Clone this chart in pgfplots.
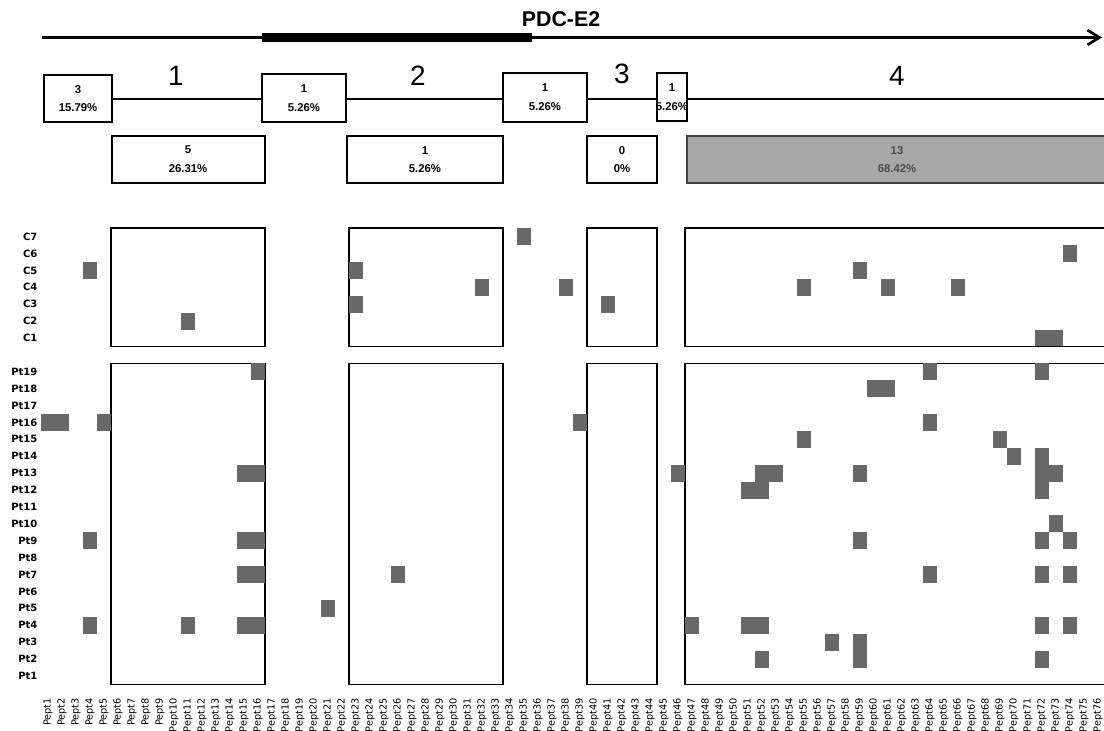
\documentclass[border=0pt]{standalone}
\usepackage{fontspec}
\setmainfont{Liberation Sans}
\newfontfamily\dejavu{DejaVu Sans}
\usepackage{pgfplots}
\pgfplotsset{compat=1.18}
\usetikzlibrary{arrows.meta}
\definecolor{cellgray}{RGB}{104,104,104}
\definecolor{boxgray}{RGB}{168,168,168}
\pgfdeclareplotmark{cell}{\pgfpathrectangle{\pgfpoint{-5.25pt}{-6.3375pt}}{\pgfpoint{10.5pt}{12.675pt}}\pgfusepathqfill}
\begin{document}
\begin{tikzpicture}
\begin{axis}[
  x=10.5pt, y=12.675pt,
  xmin=0.5, xmax=76.5, ymin=-0.3, ymax=27.5,
  clip=false,
  axis line style={draw=none},
  major tick length=0pt,
  xtick={1,2,3,4,5,6,7,8,9,10,11,12,13,14,15,16,17,18,19,20,21,22,23,24,25,26,27,28,29,30,31,32,33,34,35,36,37,38,39,40,41,42,43,44,45,46,47,48,49,50,51,52,53,54,55,56,57,58,59,60,61,62,63,64,65,66,67,68,69,70,71,72,73,74,75,76},
  xticklabels={Pept1,Pept2,Pept3,Pept4,Pept5,Pept6,Pept7,Pept8,Pept9,Pept10,Pept11,Pept12,Pept13,Pept14,Pept15,Pept16,Pept17,Pept18,Pept19,Pept20,Pept21,Pept22,Pept23,Pept24,Pept25,Pept26,Pept27,Pept28,Pept29,Pept30,Pept31,Pept32,Pept33,Pept34,Pept35,Pept36,Pept37,Pept38,Pept39,Pept40,Pept41,Pept42,Pept43,Pept44,Pept45,Pept46,Pept47,Pept48,Pept49,Pept50,Pept51,Pept52,Pept53,Pept54,Pept55,Pept56,Pept57,Pept58,Pept59,Pept60,Pept61,Pept62,Pept63,Pept64,Pept65,Pept66,Pept67,Pept68,Pept69,Pept70,Pept71,Pept72,Pept73,Pept74,Pept75,Pept76},
  ytick={1,2,3,4,5,6,7,8,9,10,11,12,13,14,15,16,17,18,19,21,22,23,24,25,26,27},
  yticklabels={Pt1,Pt2,Pt3,Pt4,Pt5,Pt6,Pt7,Pt8,Pt9,Pt10,Pt11,Pt12,Pt13,Pt14,Pt15,Pt16,Pt17,Pt18,Pt19,C1,C2,C3,C4,C5,C6,C7},
  xticklabel style={rotate=90, anchor=east, inner sep=0pt, font=\dejavu\fontsize{7.3}{8}\selectfont},
  yticklabel style={font=\dejavu\bfseries\fontsize{7.5}{8}\selectfont, inner sep=2.5pt},
]
% Patients Pt1..Pt19 (rows 1..19), controls C1..C7 (rows 21..27)
\addplot[only marks, mark=cell, color=cellgray] coordinates {
 (16,19) (64,19) (72,19)
 (60,18) (61,18)
 (1,16) (2,16) (5,16) (39,16) (64,16)
 (55,15) (69,15)
 (70,14) (72,14)
 (15,13) (16,13) (46,13) (52,13) (53,13) (59,13) (72,13) (73,13)
 (51,12) (52,12) (72,12)
 (73,10)
 (4,9) (15,9) (16,9) (59,9) (72,9) (74,9)
 (15,7) (16,7) (26,7) (64,7) (72,7) (74,7)
 (21,5)
 (4,4) (11,4) (15,4) (16,4) (47,4) (51,4) (52,4) (72,4) (74,4)
 (57,3) (59,3)
 (52,2) (59,2) (72,2)
};
\addplot[only marks, mark=cell, color=cellgray] coordinates {
 (35,27)
 (74,26)
 (4,25) (23,25) (59,25)
 (32,24) (38,24) (55,24) (61,24) (66,24)
 (23,23) (41,23)
 (11,22)
 (72,21) (73,21)
};
\draw[line width=1.2pt] (axis cs:5.5,20.5) rectangle (axis cs:16.5,27.5);
\draw[line width=1.2pt] (axis cs:22.5,20.5) rectangle (axis cs:33.5,27.5);
\draw[line width=1.2pt] (axis cs:39.5,20.5) rectangle (axis cs:44.5,27.5);
\draw[line width=1.2pt] (axis cs:46.5,20.5) rectangle (axis cs:76.6,27.5);
\draw[line width=1.2pt] (axis cs:5.5,0.5) rectangle (axis cs:16.5,19.5);
\draw[line width=1.2pt] (axis cs:22.5,0.5) rectangle (axis cs:33.5,19.5);
\draw[line width=1.2pt] (axis cs:39.5,0.5) rectangle (axis cs:44.5,19.5);
\draw[line width=1.2pt] (axis cs:46.5,0.5) rectangle (axis cs:76.6,19.5);
\coordinate (O) at (axis cs:-2.428571,41);
\end{axis}
\begin{scope}[shift={(O)}, x=0.75pt, y=-0.75pt]
 \node[font=\bfseries\fontsize{16}{19}\selectfont] at (561,19) {PDC-E2};
 \draw[line width=2pt, -{Straight Barb[length=9pt,width=11pt]}] (42,37.5) -- (1102,37.5);
 \fill (262,33.3) rectangle (532,41.7);
 \draw[line width=2.2pt] (112,99) -- (1110,99);
 \tikzset{bx/.style={draw, line width=1pt, fill=white}, bt/.style={align=center, font=\bfseries\fontsize{8.5}{14}\selectfont}, big/.style={font=\fontsize{21}{24}\selectfont}}
 % gaps (upper boxes)
 \draw[bx] (44,75) rectangle (112,122);   \node[bt] at (78,98.5) {3\\15.79\%};
 \draw[bx] (262,74) rectangle (346,122);  \node[bt] at (304,98) {1\\5.26\%};
 \draw[bx] (503,73) rectangle (587,122);  \node[bt] at (545,97.5) {1\\5.26\%};
 \draw[bx] (657,73) rectangle (687,121);  \node[bt] at (672,97) {1\\5.26\%};
 % region numbers
 \node[big] at (176,76) {1};
 \node[big] at (418,76) {2};
 \node[big] at (622,74) {3};
 \node[big] at (897,76) {4};
 % regions (lower boxes)
 \draw[bx] (112,136) rectangle (265,183); \node[bt] at (188,159.5) {5\\26.31\%};
 \draw[bx] (347,136) rectangle (503,183); \node[bt] at (425,159.5) {1\\5.26\%};
 \draw[bx] (587,136) rectangle (657,183); \node[bt] at (622,159.5) {0\\0\%};
 \draw[draw=black!75, line width=1pt, fill=boxgray] (687,136) rectangle (1112,183);
 \node[bt, text=black!70] at (897,159.5) {13\\68.42\%};
 \coordinate (BL) at (0,731);
 \coordinate (TR) at (1104,0);
\end{scope}
\pgfresetboundingbox
\path (BL) rectangle (TR);
\end{tikzpicture}
\end{document}
